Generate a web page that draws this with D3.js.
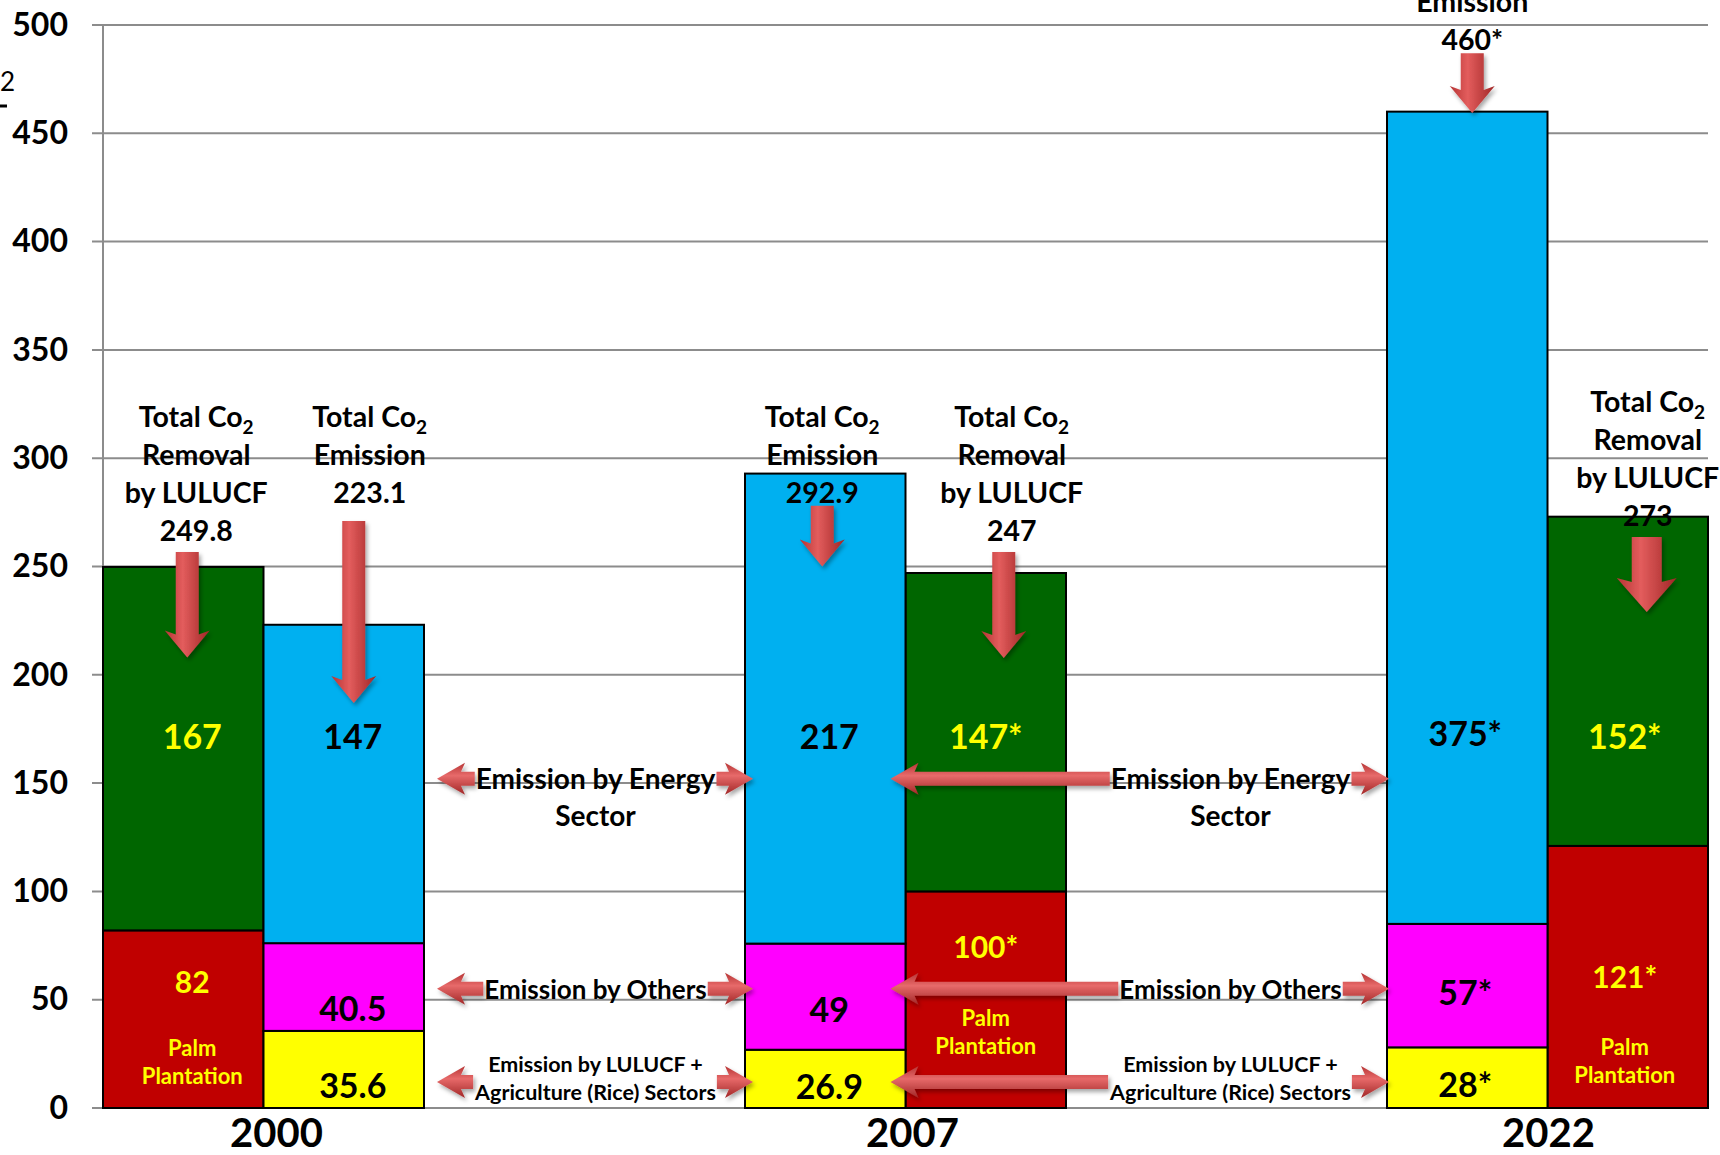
<!DOCTYPE html>
<html>
<head>
<meta charset="utf-8">
<script src="https://cdn.jsdelivr.net/npm/d3@7"></script>
<style>
body { margin: 0; background: #fff; }
svg { display: block; font-family: Lato, "Open Sans", sans-serif; }
</style>
</head>
<body>
<div class="chart"></div>
<script>
const W = 1720, H = 1155
const M = { left: 103, right: 1708, top: 25, bottom: 1108 }

// ---- data ----
const years = ["2000", "2007", "2022"]
const removalTotal = [249.8, 247, 273]
const palm = [82, 100, 121]
const energy = [147, 217, 375]
const others = [40.5, 49, 57]
const rice = [35.6, 26.9, 28]
const removalText = ["249.8", "247", "273"]
const emissionText = ["223.1", "292.9", "460*"]
const forestText = ["167", "147*", "152*"]
const palmText = ["82", "100*", "121*"]
const energyText = ["147", "217", "375*"]
const othersText = ["40.5", "49", "57*"]
const riceText = ["35.6", "26.9", "28*"]
const yTicks = [0, 50, 100, 150, 200, 250, 300, 350, 400, 450, 500]

// ten slots on the x axis, columns sit in these ones
const removalSlot = [0, 5, 9]
const emissionSlot = [1, 4, 8]

const keys = ["palm", "forest", "rice", "others", "energy"]
const colors = { palm: "#c00000", forest: "#006600", rice: "#ffff00", others: "#ff00ff", energy: "#00b0f0" }
const textColors = { palm: "#ffff00", forest: "#ffff00", rice: "#000", others: "#000", energy: "#000" }

// ---- annotation layout (value units on the y scale) ----
const labelAt = {
    forest: [171.3, 171.3, 171.3],
    palm: [58.2, 74.3, 60.5],
    energy: [171.3, 171.3, 173],
    others: [45.7, 45.2, 53],
    rice: [10.2, 9.7, 10.6],
}
const removalLabelDx = [9, 0, -3]
const emissionLabelDx = [9, 4, -2]
const palmNoteAt = [27.7, 41.5, 28.2]
const removalNoteTop = [314.4, 314.4, 321.3]
const emissionNoteTop = [314.4, 314.4, 523.5]
const removalNoteDx = [13, 26, 20]
const emissionNoteDx = [26, -3, 5]
const removalArrow = [[256.7, 208], [256.7, 207.8], [263.6, 229]]
const emissionArrow = [[271, 187], [278, 250], [487, 459.4]]
const removalArrowDx = [4, 18, 19]
const emissionArrowDx = [10, -3, 5]
const yearDx = [13, 7, 1]

const sideNotes = [
    { lines: ["Emission by Energy", "Sector"], arrowAt: 152, textAt: 151.9, size: 28, lh: 37 },
    { lines: ["Emission by Others"], arrowAt: 55, textAt: 54.5, size: 26, lh: 30 },
    { lines: ["Emission by LULUCF +", "Agriculture (Rice) Sectors"], arrowAt: 12, textAt: 20.3, size: 21.5, lh: 28 },
]

// ---- build ----
const svg = d3.select(".chart").append("svg").attr("width", W).attr("height", H)
svg.append("rect").attr("width", W).attr("height", H).attr("fill", "#fff")

const x = d3.scaleBand().domain(d3.range(10)).range([M.left, M.right]).padding(0)
const y = d3.scaleLinear().domain([0, 500]).range([M.bottom, M.top])
const bw = x.bandwidth()

const defs = svg.append("defs")
const gv = defs.append("linearGradient").attr("id", "arrow-v")
    .attr("x1", 0).attr("x2", 1).attr("y1", 0).attr("y2", 0)
gv.append("stop").attr("offset", 0).attr("stop-color", "#b63434")
gv.append("stop").attr("offset", 0.4).attr("stop-color", "#e35d5d")
gv.append("stop").attr("offset", 1).attr("stop-color", "#a02626")
const gh = defs.append("linearGradient").attr("id", "arrow-h")
    .attr("x1", 0).attr("x2", 0).attr("y1", 0).attr("y2", 1)
gh.append("stop").attr("offset", 0).attr("stop-color", "#b63434")
gh.append("stop").attr("offset", 0.4).attr("stop-color", "#e76a6a")
gh.append("stop").attr("offset", 1).attr("stop-color", "#a02626")
defs.append("filter").attr("id", "shadow")
    .attr("x", "-30%").attr("y", "-30%").attr("width", "160%").attr("height", "160%")
    .append("feDropShadow")
    .attr("dx", 2).attr("dy", 3).attr("stdDeviation", 2)
    .attr("flood-color", "#000").attr("flood-opacity", 0.35)

// grid + axis lines
svg.append("g").attr("id", "grid")
    .selectAll("line").data(yTicks).join("line")
    .attr("x1", M.left - 11).attr("x2", M.right)
    .attr("y1", d => y(d)).attr("y2", d => y(d))
    .attr("stroke", "#8c8c8c").attr("stroke-width", 2)
svg.append("line")
    .attr("x1", M.left).attr("x2", M.left).attr("y1", y(500)).attr("y2", y(0))
    .attr("stroke", "#8c8c8c").attr("stroke-width", 2)

const yAxis = svg.append("g")
    .attr("transform", `translate(${M.left},0)`)
    .call(d3.axisLeft(y).tickValues(yTicks).tickSize(0).tickPadding(35))
yAxis.select(".domain").remove()
yAxis.selectAll("text")
    .attr("font-family", "Lato, sans-serif")
    .attr("font-size", 32).attr("font-weight", "bold").attr("fill", "#000")

// cut-off axis title remnant on the far left
svg.append("text").attr("x", 0).attr("y", 91)
    .attr("font-size", 26).attr("fill", "#000").text("2")
svg.append("line").attr("x1", 0).attr("x2", 7).attr("y1", 106).attr("y2", 106)
    .attr("stroke", "#000").attr("stroke-width", 3)

// stacked rows, one per slot
const rows = d3.range(10).map(i => ({ slot: i, palm: 0, forest: 0, rice: 0, others: 0, energy: 0 }))
years.forEach((yr, k) => {
    rows[removalSlot[k]].palm = palm[k]
    rows[removalSlot[k]].forest = removalTotal[k] - palm[k]
    rows[emissionSlot[k]].rice = rice[k]
    rows[emissionSlot[k]].others = others[k]
    rows[emissionSlot[k]].energy = energy[k]
})
const stacked = d3.stack().keys(keys)(rows)

svg.append("g").attr("id", "bars")
    .selectAll("g").data(stacked).join("g")
    .attr("fill", d => colors[d.key])
    .selectAll("rect").data(d => d.filter(s => s[1] > s[0])).join("rect")
    .attr("x", d => x(d.data.slot))
    .attr("y", d => y(d[1]))
    .attr("width", bw)
    .attr("height", d => y(d[0]) - y(d[1]))
    .attr("stroke", "#000").attr("stroke-width", 2)

// total notes above columns
const notes = svg.append("g").attr("id", "notes")
function totalNote(cx, top, lines) {
    const t = notes.append("text")
        .attr("text-anchor", "middle").attr("font-size", 28.5).attr("font-weight", "bold").attr("fill", "#000")
    lines.forEach((l, i) => {
        const ty = y(top) + i * 38
        if (i == 0) {
            t.append("tspan").attr("x", cx).attr("y", ty).text("Total Co")
            t.append("tspan").attr("font-size", 19).attr("dy", 7).text("2")
        } else {
            t.append("tspan").attr("x", cx).attr("y", ty).text(l)
        }
    })
}
years.forEach((yr, k) => {
    totalNote(x(removalSlot[k]) + bw / 2 + removalNoteDx[k], removalNoteTop[k],
        ["Total Co2", "Removal", "by LULUCF", removalText[k]])
    totalNote(x(emissionSlot[k]) + bw / 2 + emissionNoteDx[k], emissionNoteTop[k],
        ["Total Co2", "Emission", emissionText[k]])
})

// arrows
const arrows = svg.append("g").attr("id", "arrows").attr("filter", "url(#shadow)")
function downArrow(cx, y0, y1, w, Wd, L) {
    const pts = [[cx - w, y0], [cx + w, y0], [cx + w, y1 - L], [cx + Wd, y1 - L - 4], [cx, y1],
        [cx - Wd, y1 - L - 4], [cx - w, y1 - L]]
    arrows.append("path").attr("d", d3.line()(pts) + "Z").attr("fill", "url(#arrow-v)")
}
function sideArrow(tail, tip, cy, h, Hd, L) {
    const s = tip < tail ? 1 : -1
    const base = tip + s * L
    const shaftEnd = s > 0 ? Math.max(tail, base) : Math.min(tail, base)
    const pts = [[shaftEnd, cy - h], [base, cy - h], [base + s * 4, cy - Hd], [tip, cy],
        [base + s * 4, cy + Hd], [base, cy + h], [shaftEnd, cy + h]]
    arrows.append("path").attr("d", d3.line()(pts) + "Z").attr("fill", "url(#arrow-h)")
}

years.forEach((yr, k) => {
    const big = k == 2
    downArrow(x(removalSlot[k]) + bw / 2 + removalArrowDx[k], y(removalArrow[k][0]), y(removalArrow[k][1]),
        big ? 15 : 11.5, big ? 30 : 22.5, big ? 30 : 23)
    downArrow(x(emissionSlot[k]) + bw / 2 + emissionArrowDx[k], y(emissionArrow[k][0]), y(emissionArrow[k][1]),
        11.5, 22.5, 23)
})

// value labels inside the segments
const labels = svg.append("g").attr("id", "labels")
    .attr("text-anchor", "middle").attr("font-weight", "bold")
const segText = { forest: forestText, palm: palmText, energy: energyText, others: othersText, rice: riceText }
years.forEach((yr, k) => {
    keys.forEach(key => {
        const isRemoval = key == "palm" || key == "forest"
        const slot = isRemoval ? removalSlot[k] : emissionSlot[k]
        const dx = isRemoval ? removalLabelDx[k] : emissionLabelDx[k]
        labels.append("text")
            .attr("x", x(slot) + bw / 2 + dx)
            .attr("y", y(labelAt[key][k]))
            .attr("dy", "0.36em")
            .attr("font-size", key == "palm" ? 30 : 34)
            .attr("fill", textColors[key])
            .text(segText[key][k])
    })
    const px = x(removalSlot[k]) + bw / 2 + removalLabelDx[k]
    const pt = labels.append("text")
        .attr("font-size", 22).attr("fill", "#ffff00")
    pt.append("tspan").attr("x", px).attr("y", y(palmNoteAt[k])).attr("dy", "0.36em").text("Palm")
    pt.append("tspan").attr("x", px).attr("y", y(palmNoteAt[k]) + 28).attr("dy", "0.36em").text("Plantation")
})

// side notes with double arrows in the two gaps
const gaps = [
    { center: (x(2) + x(4)) / 2 + 11, leftTip: x(2) + 13, rightTip: x(4) + 8 },
    { center: (x(6) + x(8)) / 2 + 4, leftTip: x(5) - 15, rightTip: x(8) + 2 },
]
const side = svg.append("g").attr("id", "side")
gaps.forEach(g => {
    sideNotes.forEach(n => {
        const t = side.append("text")
            .attr("text-anchor", "middle").attr("font-weight", "bold")
            .attr("font-size", n.size).attr("fill", "#000")
        n.lines.forEach((l, i) => {
            t.append("tspan").attr("x", g.center).attr("y", y(n.textAt) + i * n.lh).attr("dy", "0.36em").text(l)
        })
        const bb = t.node().getBBox()
        sideArrow(bb.x - 1, g.leftTip, y(n.arrowAt), 7, 16, 24)
        sideArrow(bb.x + bb.width + 1, g.rightTip, y(n.arrowAt), 7, 16, 24)
    })
})
side.raise()

// year labels
svg.append("g").attr("id", "years")
    .selectAll("text").data(years).join("text")
    .attr("x", (d, k) => (x(removalSlot[k]) + x(emissionSlot[k]) + bw) / 2 + yearDx[k])
    .attr("y", y(0) + 39)
    .attr("text-anchor", "middle")
    .attr("font-size", 40).attr("font-weight", "bold").attr("fill", "#000")
    .text(d => d)
</script>
</body>
</html>
